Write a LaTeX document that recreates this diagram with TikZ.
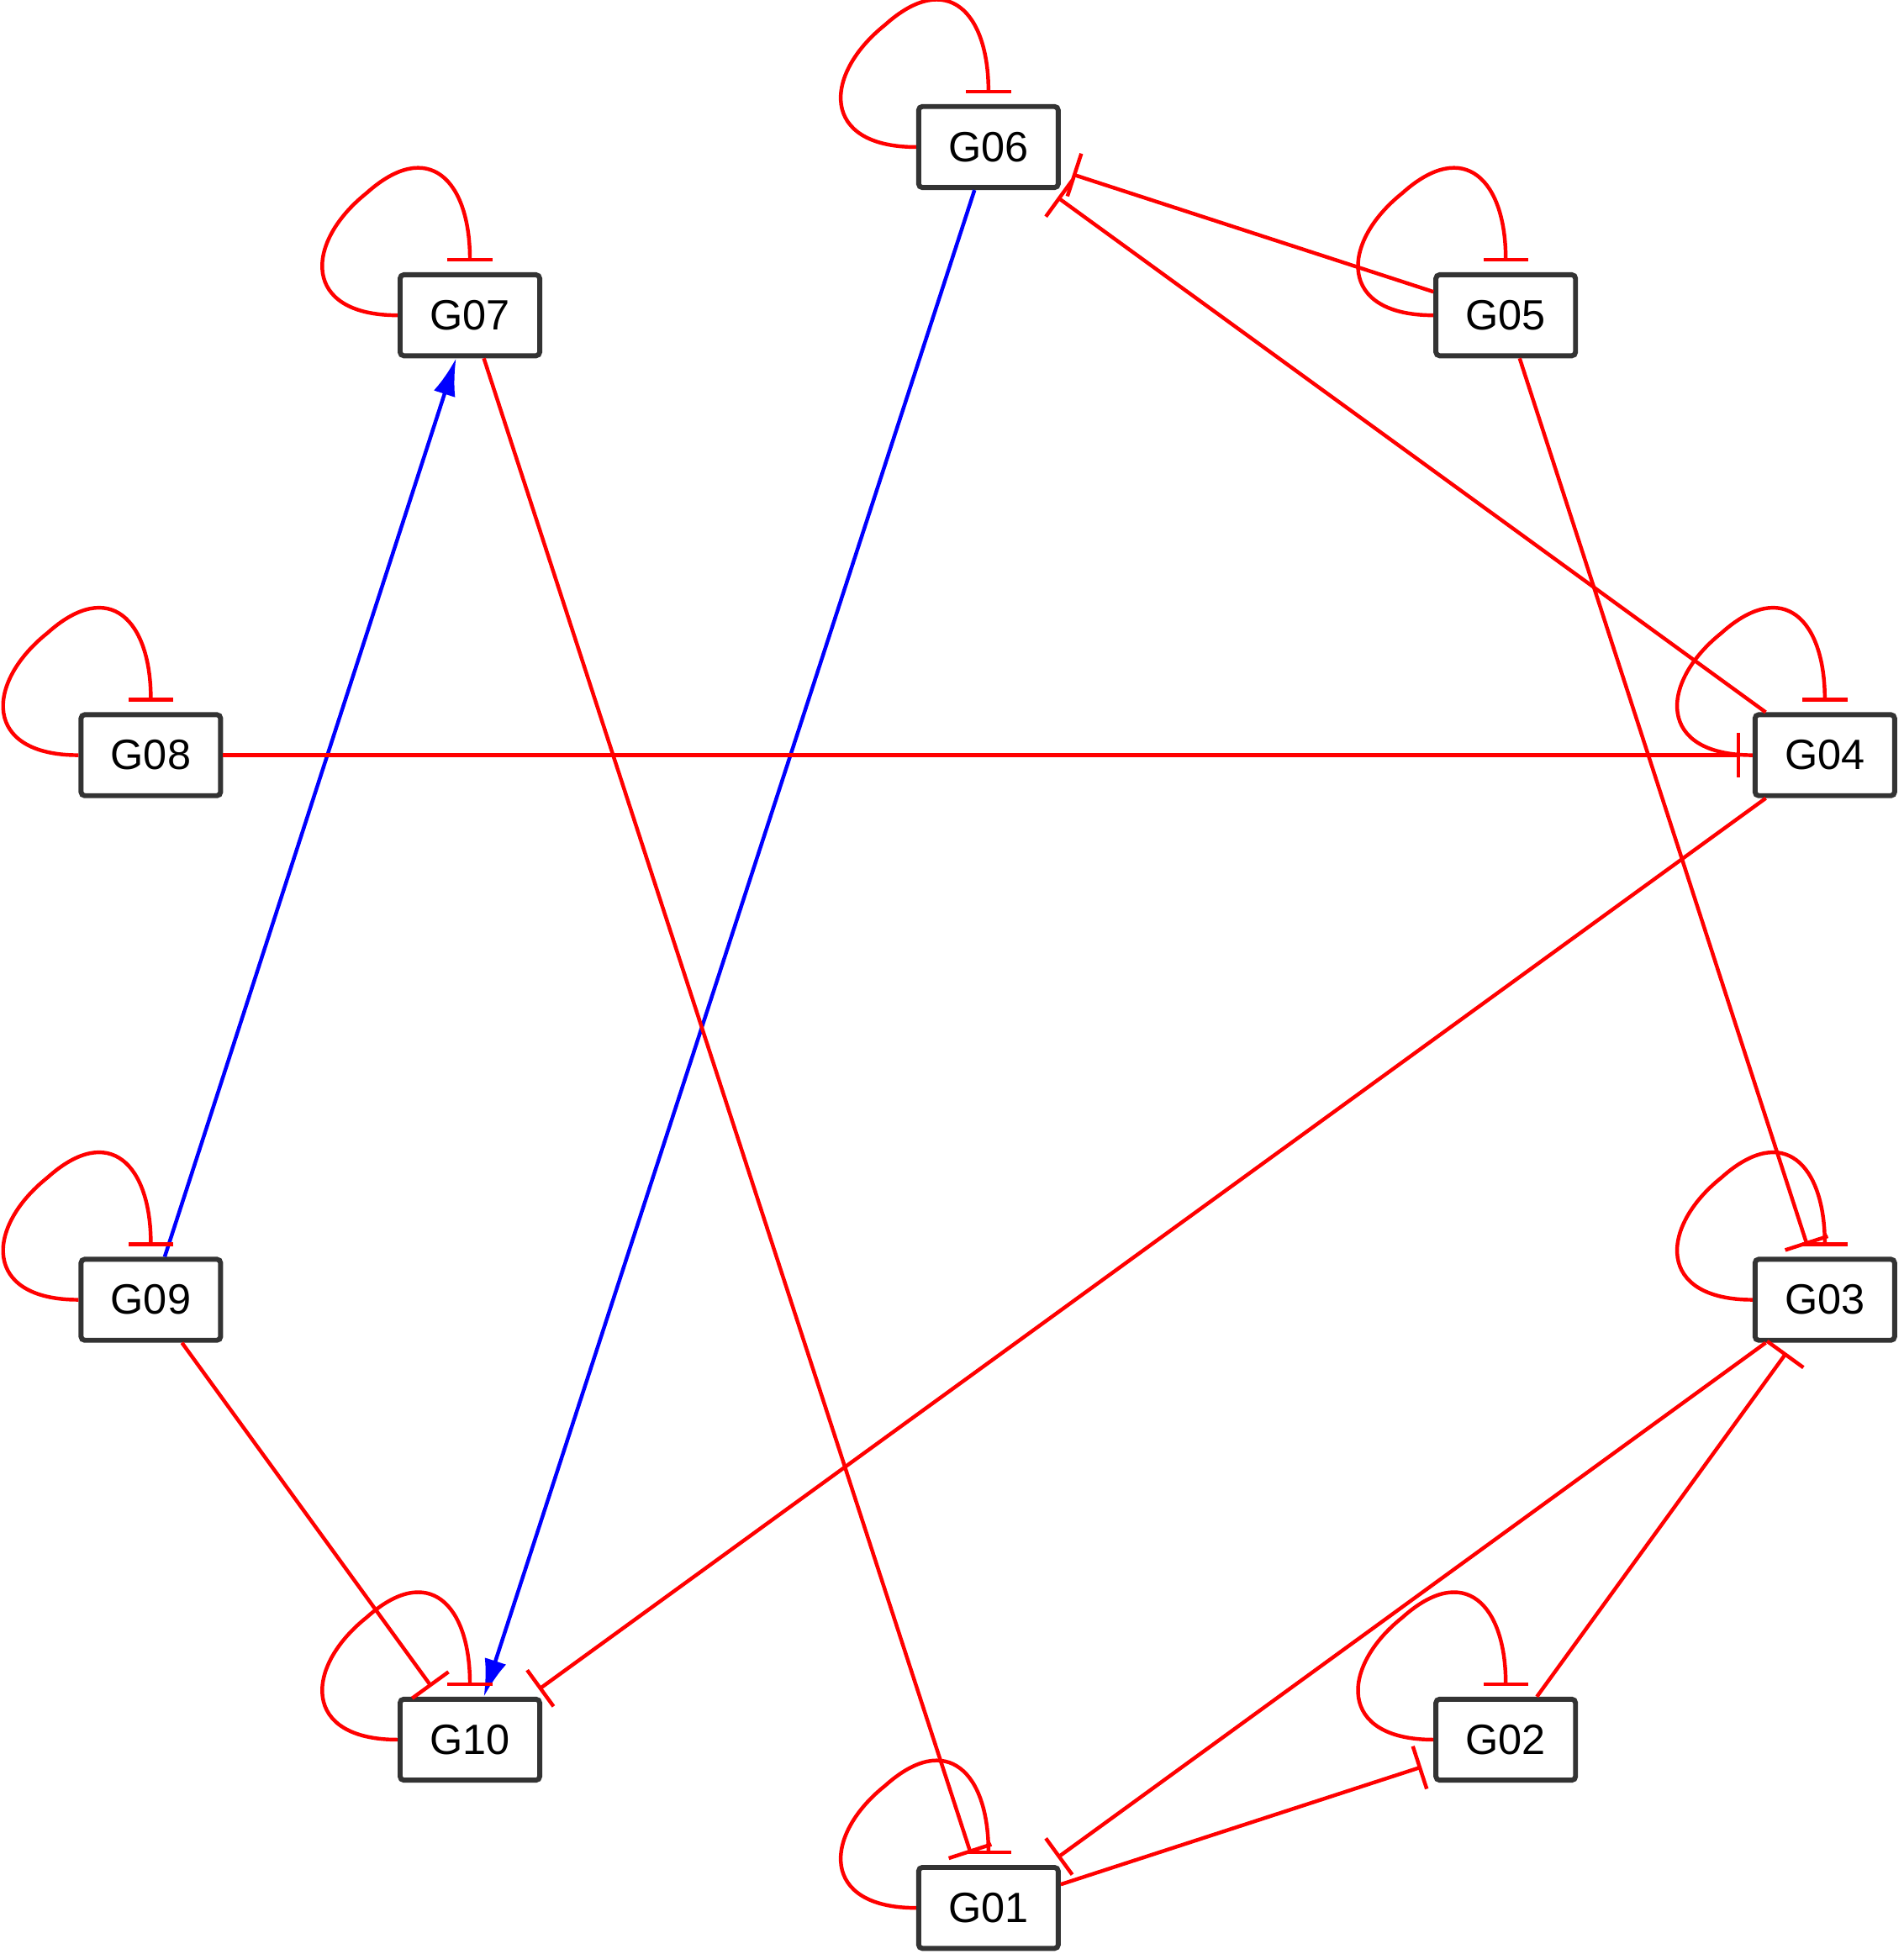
\documentclass[tikz,border=0pt]{standalone}
\usepackage{fontspec}
\setmainfont{Liberation Sans}
\usetikzlibrary{arrows.meta}
\begin{document}
\begin{tikzpicture}[x=0.5pt,y=-0.5pt,
  gene/.style={draw=black!80,line width=2pt,rounded corners=1.5pt,fill=white,minimum width=56pt,minimum height=32.5pt,inner sep=0pt,font=\fontsize{17}{20}\selectfont},
  inh/.style={draw=red,line width=1.5pt,-{Bar[width=18pt,line width=1.5pt]},shorten >=5pt},
  act/.style={draw=blue,line width=1.5pt,-{Latex[length=15pt,width=9pt]}},
  selfloop/.style={draw=red,line width=1.5pt,-{Bar[width=18pt,line width=1.5pt]}}]
\useasboundingbox (0,0) rectangle (1527,1568);
\node[gene] (G06) at (793,118) {G06};
\node[gene] (G07) at (377,253) {G07};
\node[gene] (G05) at (1208,253) {G05};
\node[gene] (G08) at (121,606) {G08};
\node[gene] (G04) at (1464,606) {G04};
\node[gene] (G09) at (121,1043) {G09};
\node[gene] (G03) at (1464,1043) {G03};
\node[gene] (G10) at (377,1396) {G10};
\node[gene] (G02) at (1208,1396) {G02};
\node[gene] (G01) at (793,1531) {G01};
\begin{scope}[on background layer/.style={}]
\draw[act] (G06) -- (G10);
\draw[act] (G09) -- (G07);
\draw[inh] (G07) -- (G01);
\draw[inh] (G05) -- (G06);
\draw[inh] (G04) -- (G06);
\draw[inh] (G05) -- (G03);
\draw[inh] (G08) -- (G04);
\draw[inh] (G04) -- (G10);
\draw[inh] (G03) -- (G01);
\draw[inh] (G02) -- (G03);
\draw[inh] (G01) -- (G02);
\draw[inh] (G09) -- (G10);
\foreach \n in {G01,G02,G03,G04,G05,G06,G07,G08,G09,G10}{
  \draw[selfloop] (\n.west) .. controls +(-77,0) and +(-50,40) .. ([shift={(-83,-98)}]\n.center)
    .. controls +(50,-45) and +(0,-65) .. ([shift={(0,-43)}]\n.center);
}
\end{scope}
\end{tikzpicture}
\end{document}
